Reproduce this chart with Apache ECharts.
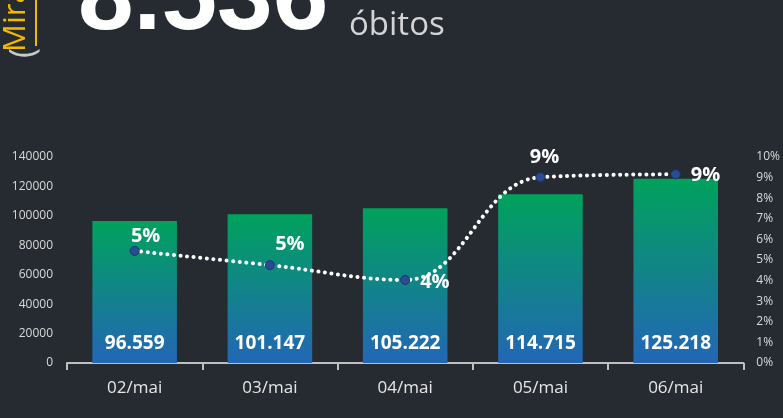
<!DOCTYPE html>
<html>
<head>
<meta charset="utf-8">
<script src="https://cdn.jsdelivr.net/npm/echarts@6/dist/echarts.min.js"></script>
<style>
  html, body { margin: 0; padding: 0; background: #262b32; }
  #chart { width: 783px; height: 418px; }
</style>
</head>
<body>
<div id="chart"></div>
<script>
// dados
const days = ['02/mai', '03/mai', '04/mai', '05/mai', '06/mai'];
const cases = [96559, 101147, 105222, 114715, 125218];
const growth = [5.44, 4.75, 4.03, 9.02, 9.16];
const growthLabels = ['5%', '5%', '4%', '9%', '9%'];
const deaths = '8.536';

// label placement per point (top / right)
const labelPos = [
  { position: 'top', offset: [11, 5] },
  { position: 'top', offset: [20, -1] },
  { position: 'right', offset: [5, 2] },
  { position: 'top', offset: [4, 0] },
  { position: 'right', offset: [5, 1] },
];

const fmt = v => String(v).replace(/\B(?=(\d{3})+(?!\d))/g, '.');

const chart = echarts.init(document.getElementById('chart'));

const option = {
  backgroundColor: '#262b32',
  textStyle: { fontFamily: 'Open Sans' },
  graphic: [
    {
      type: 'text', x: 78, y: 1,
      style: { text: deaths, fill: '#ffffff', font: 'bold 100px "Liberation Sans"', verticalAlign: 'middle' },
    },
    {
      type: 'text', x: 349, y: 26,
      style: { text: 'óbitos', fill: '#d4d4d4', font: '33px "Open Sans"', verticalAlign: 'middle' },
    },
    {
      type: 'text', x: 32, y: 52, rotation: Math.PI / 2,
      style: { text: 'Mirante', fill: '#f5b800', font: '31px "Open Sans"', verticalAlign: 'bottom' },
    },
    {
      type: 'line', shape: { x1: 36, y1: 0, x2: 36, y2: 46 },
      style: { stroke: '#f5b800', lineWidth: 2 },
    },
    {
      type: 'text', x: 41, y: 58, rotation: Math.PI / 2,
      style: { text: '(', fill: '#c8c8c8', font: '34px "Open Sans"', verticalAlign: 'bottom' },
    },
  ],
  grid: { left: 67, right: 36, top: 157, bottom: 55 },
  xAxis: {
    type: 'category',
    data: days,
    axisLine: { lineStyle: { color: '#bfbfbf', width: 2 } },
    axisTick: { show: true, length: 7, lineStyle: { color: '#bfbfbf', width: 2 } },
    axisLabel: { color: '#e6e6e6', fontSize: 17, margin: 17 },
  },
  yAxis: [
    {
      type: 'value', min: 0, max: 140000, interval: 20000,
      splitLine: { show: false },
      axisLine: { show: false }, axisTick: { show: false },
      axisLabel: { color: '#d9d9d9', fontSize: 12, margin: 14, formatter: v => String(v) },
    },
    {
      type: 'value', min: 0, max: 10, interval: 1,
      splitLine: { show: false },
      axisLine: { show: false }, axisTick: { show: false },
      axisLabel: { color: '#d9d9d9', fontSize: 12, margin: 13, formatter: '{value}%' },
    },
  ],
  series: [
    {
      type: 'bar',
      data: cases,
      barWidth: '62.5%',
      itemStyle: {
        color: new echarts.graphic.LinearGradient(0, 0, 0, 1, [
          { offset: 0, color: '#00a25c' },
          { offset: 1, color: '#2366b6' },
        ]),
      },
      label: {
        show: true, position: 'insideBottom', distance: 10,
        color: '#ffffff', fontSize: 19, fontWeight: 'bold',
        formatter: p => fmt(p.value),
      },
    },
    {
      type: 'line',
      yAxisIndex: 1,
      smooth: 0.4,
      data: growth.map((v, i) => ({
        value: v,
        label: Object.assign({ show: true, formatter: growthLabels[i] }, labelPos[i]),
      })),
      symbol: 'circle',
      symbolSize: 9,
      itemStyle: { color: '#2a4c92', borderColor: '#1d3670', borderWidth: 1 },
      lineStyle: { color: '#ffffff', width: 4, type: [0.1, 6.5], cap: 'round' },
      label: { color: '#ffffff', fontSize: 20, fontWeight: 'bold' },
      z: 5,
    },
  ],
};

chart.setOption(option);
</script>
</body>
</html>
